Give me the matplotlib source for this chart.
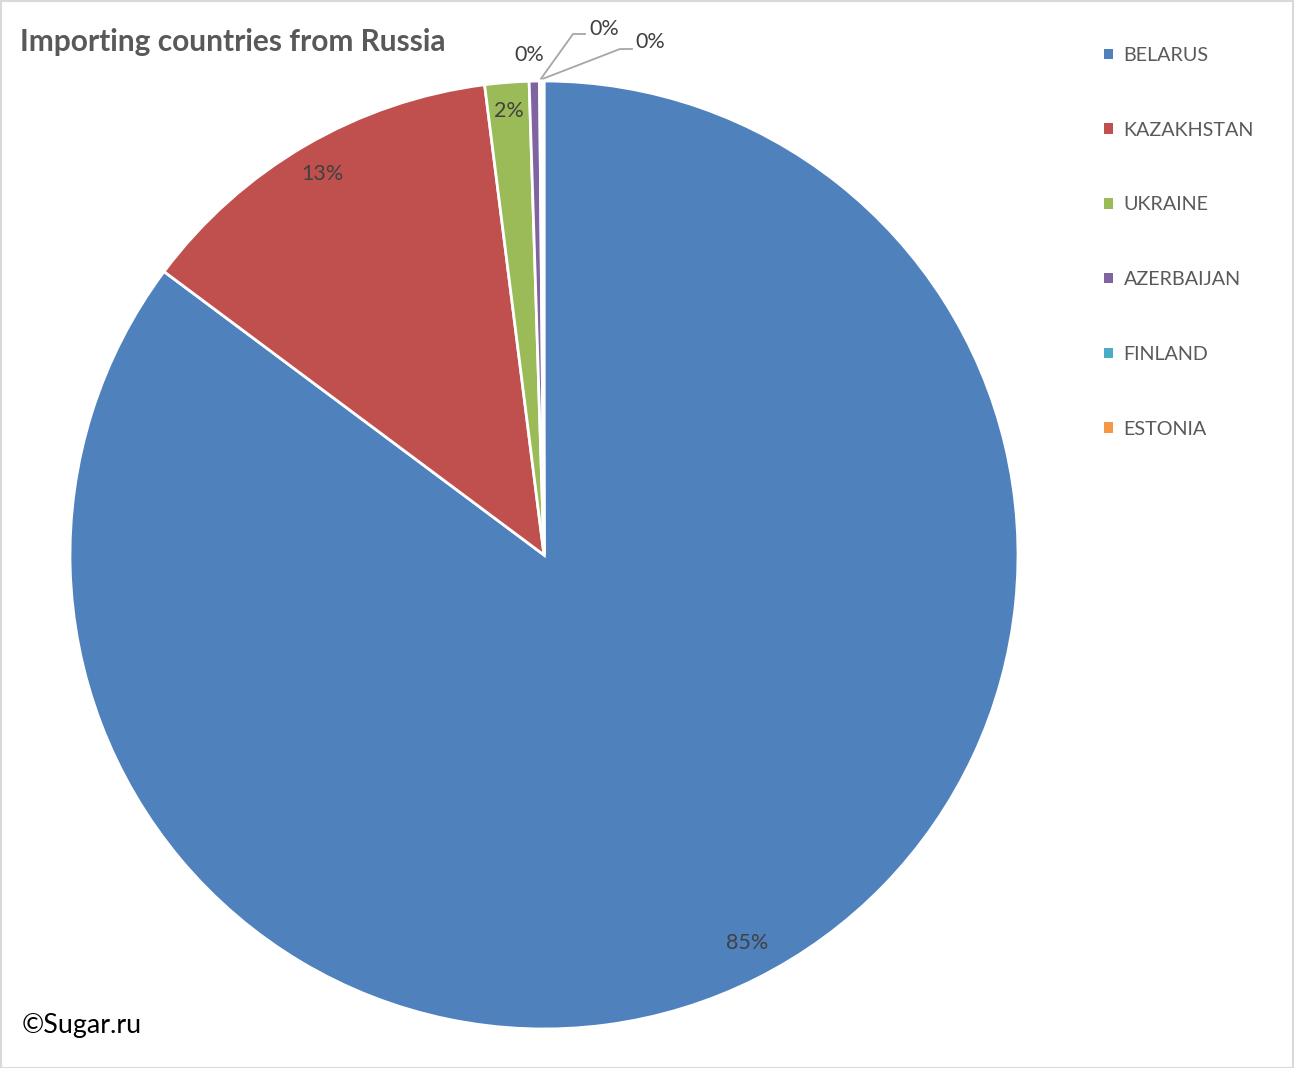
import numpy as np
import matplotlib
matplotlib.use('Agg')
import matplotlib.pyplot as plt
from matplotlib.patches import Rectangle

plt.rcParams['font.family'] = ['Lato', 'DejaVu Sans']

# data
countries = ['BELARUS', 'KAZAKHSTAN', 'UKRAINE', 'AZERBAIJAN', 'FINLAND', 'ESTONIA']
shares = [85.2, 12.8, 1.5, 0.35, 0.1, 0.05]
colors = ['#4f81bd', '#c0504d', '#9bbb59', '#8064a2', '#4bacc6', '#f79646']

W, H = 1294, 1068
fig = plt.figure(figsize=(W / 100, H / 100), dpi=100)

# pie centre (544, 555) px, radius 474 px
cx, cy, r = 544, 555, 474
ax = fig.add_axes([(cx - r) / W, (H - cy - r) / H, 2 * r / W, 2 * r / H])

wedges, _ = ax.pie(shares, colors=colors, startangle=90, counterclock=False,
                   radius=1, wedgeprops=dict(edgecolor='white', linewidth=2))
ax.set_xlim(-1, 1)
ax.set_ylim(-1, 1)
ax.axis('off')

label_col = '#404040'
lab_fs = 15.5
pcts = [f'{round(s):.0f}%' for s in shares]

# inside labels (fraction of radius, angle tweak in degrees)
inside_pos = [(0.924, 1.0), (0.93, 0.0), (0.94, 0.0)]
for w, txt, (rr, da) in zip(wedges[:3], pcts[:3], inside_pos):
    ang = np.deg2rad((w.theta1 + w.theta2) / 2 + da)
    ax.text(rr * np.cos(ang), rr * np.sin(ang), txt, ha='center', va='center',
            fontsize=lab_fs, color=label_col)

# azerbaijan label just outside
w = wedges[3]
ang = np.deg2rad((w.theta1 + w.theta2) / 2 + 0.5)
ax.text(1.055 * np.cos(ang), 1.055 * np.sin(ang), pcts[3], ha='center',
        va='center', fontsize=lab_fs, color=label_col)


def px(x, y):
    return (x - cx) / r, (cy - y) / r


# leader-line labels for the tiny slices
leaders = [((573, 34), (585, 34), (604, 29)),
           ((620, 49), (632, 49), (650, 42))]
for w, txt, (bend, end, tpos) in zip(wedges[4:], pcts[4:], leaders):
    ang = np.deg2rad((w.theta1 + w.theta2) / 2)
    tip = (1.0 * np.cos(ang), 1.0 * np.sin(ang) + 0.005)
    xs = [tip[0], px(*bend)[0], px(*end)[0]]
    ys = [tip[1], px(*bend)[1], px(*end)[1]]
    ax.plot(xs, ys, color='#a6a6a6', lw=1.3, clip_on=False)
    ax.text(*px(*tpos), txt, ha='center', va='center', fontsize=lab_fs,
            color=label_col)

# legend
leg = fig.legend(wedges, countries, loc='upper left',
                 bbox_to_anchor=(1094 / W, 1 - 37 / H), frameon=False,
                 fontsize=14.2, labelspacing=2.93, handlelength=0.45,
                 handleheight=0.45, handletextpad=0.55, borderpad=0)
for t in leg.get_texts():
    t.set_color('#595959')
for h in leg.legend_handles:
    h.set_edgecolor('none')

fig.text(20 / W, 1 - 42 / H, 'Importing countries from Russia', fontsize=21.5,
         fontweight='bold', color='#595959', ha='left', va='center')
fig.text(22 / W, 1 - 1026 / H, '©Sugar.ru', fontsize=19.3, color='black',
         ha='left', va='center')

# chart border
fig.patches.append(Rectangle((0.5 / W, 0.5 / H), 1 - 1.5 / W, 1 - 1.5 / H,
                             transform=fig.transFigure, fill=False,
                             edgecolor='#d9d9d9', lw=1.5))

fig.savefig('out.png', dpi=100)
